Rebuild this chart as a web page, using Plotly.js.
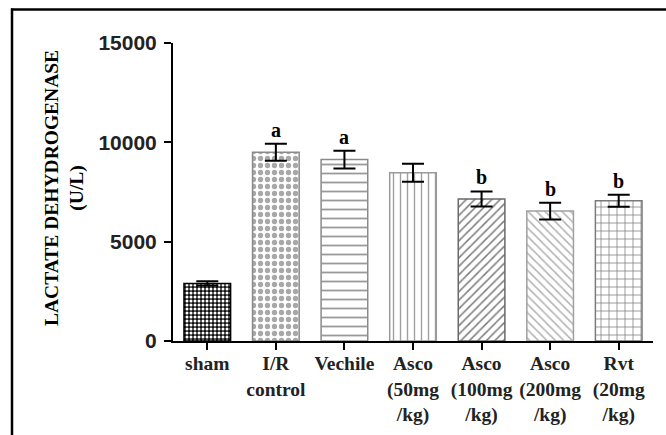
<!DOCTYPE html>
<html>
<head>
<meta charset="utf-8">
<script src="https://cdn.plot.ly/plotly-3.0.1.min.js"></script>
<style>html,body{margin:0;padding:0;background:#fff;}#chart{width:666px;height:435px;}</style>
</head>
<body>
<div id="chart"></div>
<script>
var categories = ["sham", "I/R<br>control", "Vechile", "Asco<br>(50mg<br>/kg)", "Asco<br>(100mg<br>/kg)", "Asco<br>(200mg<br>/kg)", "Rvt<br>(20mg<br>/kg)"];
var values = [2900, 9500, 9130, 8470, 7150, 6540, 7060];
var errors = [110, 430, 450, 450, 380, 420, 300];
var sigLetters = ["", "a", "a", "", "b", "b", "b"];
var yTicks = [0, 5000, 10000, 15000];

var patShapes = [".", ".", "-", "|", "/", "\\", "+"];
var patFg = ["#ffffff", "#a8a8a8", "#9a9a9a", "#a0a0a0", "#7a7a7a", "#b0b0b0", "#8a8a8a"];
var patBg = ["#111111", "#ffffff", "#ffffff", "#ffffff", "#ffffff", "#ffffff", "#ffffff"];
var patSize = [4, 7, 9, 7, 6, 6, 8];
var patSolid = [0.45, 0.45, 0.2, 0.2, 0.25, 0.25, 0.2];
var lineCols = ["#000000", "#8a8a8a", "#8a8a8a", "#9a9a9a", "#6a6a6a", "#a0a0a0", "#7a7a7a"];

var xIdx = categories.map(function(c, i){ return i; });

var traces = xIdx.map(function(i){
  return {
    type: "bar",
    x: [i],
    y: [values[i]],
    width: 0.68,
    marker: {
      color: patFg[i],
      line: {color: lineCols[i], width: 1.5},
      pattern: {shape: patShapes[i], fgcolor: patFg[i], bgcolor: patBg[i], size: patSize[i], solidity: patSolid[i], fillmode: "replace"}
    },
    error_y: {type: "data", array: [errors[i]], visible: true, color: "#000", thickness: 2, width: 11},
    hoverinfo: "none"
  };
});

var annotations = [];
sigLetters.forEach(function(s, i){
  if (!s) return;
  annotations.push({
    x: i, y: values[i] + errors[i], xref: "x", yref: "y",
    text: s, showarrow: false, yanchor: "bottom", yshift: 1,
    font: {family: "Liberation Serif, serif", size: 20, color: "#000", weight: "bold"}
  });
});

var L = 173, R = 653, T = 43, B = 341;
function px2x(p){ return (p - L) / (R - L); }
function py2y(p){ return (B - p) / (B - T); }

annotations.push({
  x: px2x(64), y: py2y(188), xref: "paper", yref: "paper",
  text: "LACTATE DEHYDROGENASE<br>(U/L)", textangle: -90, showarrow: false,
  xanchor: "center", yanchor: "middle",
  font: {family: "Liberation Serif, serif", size: 19.5, color: "#000", weight: "bold"}
});

var layout = {
  width: 666, height: 435,
  margin: {l: L, r: 666 - R, t: T, b: 435 - B, pad: 0},
  paper_bgcolor: "#fff", plot_bgcolor: "#fff",
  showlegend: false,
  barmode: "overlay",
  xaxis: {
    range: [-0.5, 6.5], tickmode: "array", tickvals: xIdx, ticktext: categories,
    showline: true, linecolor: "#000", linewidth: 2,
    ticks: "outside", ticklen: 7, tickwidth: 2, tickcolor: "#000",
    showgrid: false, zeroline: false, automargin: false, fixedrange: true,
    ticklabelstandoff: -3,
    tickfont: {family: "Liberation Serif, serif", size: 19.5, color: "#222", weight: "bold"}
  },
  yaxis: {
    range: [0, 15000], tickmode: "array", tickvals: yTicks, ticktext: yTicks.map(String),
    showline: true, linecolor: "#000", linewidth: 2,
    ticks: "outside", ticklen: 7, tickwidth: 2, tickcolor: "#000",
    showgrid: false, zeroline: false, automargin: false, fixedrange: true,
    ticklabelstandoff: 3,
    tickfont: {family: "Liberation Sans, Arial, sans-serif", size: 21, color: "#222", weight: "bold"}
  },
  annotations: annotations,
  shapes: [
    {type: "line", xref: "paper", yref: "paper", x0: px2x(11), x1: px2x(700), y0: py2y(9.5), y1: py2y(9.5), line: {color: "#000", width: 2.5}},
    {type: "line", xref: "paper", yref: "paper", x0: px2x(12), x1: px2x(12), y0: py2y(8.5), y1: py2y(470), line: {color: "#000", width: 2.5}}
  ]
};

Plotly.newPlot("chart", traces, layout, {displayModeBar: false, staticPlot: true});
</script>
</body>
</html>
